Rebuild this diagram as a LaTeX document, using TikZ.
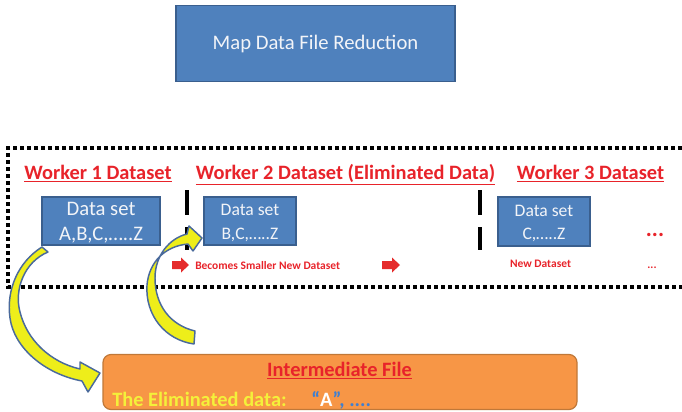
\documentclass[tikz,border=0pt]{standalone}
\usepackage{fontspec}
\setmainfont{Carlito}
\definecolor{boxblue}{HTML}{4F81BD}
\definecolor{boxedge}{HTML}{3A5F8E}
\definecolor{hdrred}{HTML}{E8232A}
\definecolor{arrred}{HTML}{E52B2B}
\definecolor{arrfill}{HTML}{EEEE1A}
\definecolor{arredge}{HTML}{4A6A9C}
\definecolor{orangefill}{HTML}{F79646}
\definecolor{orangeedge}{HTML}{C07838}
\definecolor{yeltext}{HTML}{F4F03A}
\definecolor{bluetext}{HTML}{3F7FD0}
\definecolor{dstextc}{HTML}{F2F4F8}
\begin{document}
\begin{tikzpicture}[x=0.75pt,y=-0.75pt,
  bluebox/.style={draw=boxedge, fill=boxblue, line width=0.8pt, text=dstextc, align=center, inner sep=0pt},
  boxtext/.style={text=dstextc, align=center, inner sep=0pt},
  hdr/.style={font=\fontsize{15.3}{18}\selectfont\bfseries, text=hdrred, inner sep=0pt},
  smallred/.style={font=\fontsize{8.6}{10}\selectfont\bfseries, text=hdrred, inner sep=0pt},
  barline/.style={line width=2.3pt, black},
  dotframe/.style={line width=2.7pt, black, dash pattern=on 2.7pt off 2.55pt},
  blockarrow/.style={fill=arrfill, draw=arredge, line width=1.1pt, line join=round},
  redarrow/.style={fill=arrred}
]
\useasboundingbox (0,0) rectangle (682,411);
\fill[white] (0,0) rectangle (682,411);

% title
\node[bluebox, minimum width=209.25pt, minimum height=57pt, font=\fontsize{15.5}{18}\selectfont] (title) at (315.5,43.5) {Map Data File Reduction};

% dotted frame
\draw[dotframe] (682,148) -- (8,148) -- (8,287) -- (682,287);

% headers
\node[hdr, anchor=base] (w1) at (98,179) {\underline{Worker 1 Dataset}};
\node[hdr, anchor=base] (w2) at (345.5,179) {\underline{Worker 2 Dataset (Eliminated Data)}};
\node[hdr, anchor=base] (w3) at (590.5,179) {\underline{Worker 3 Dataset}};

% separators
\draw[barline] (187,190) -- (187,215);
\draw[barline] (187,227) -- (187,250);
\draw[barline] (480,190) -- (480,215);
\draw[barline] (480,227) -- (480,250);

% data set boxes
\node[bluebox, minimum width=88.5pt, minimum height=36pt] (ds1) at (101,221) {};
\node[boxtext, font=\fontsize{15.5}{19}\selectfont] (ds1t) at (101,223) {Data set\\A,B,C,…..Z};
\node[bluebox, minimum width=69pt, minimum height=36pt] (ds2) at (250,221) {};
\node[boxtext, font=\fontsize{13.2}{17.5}\selectfont] (ds2t) at (250,223) {Data set\\B,C,…..Z};
\node[bluebox, minimum width=69pt, minimum height=36.75pt] (ds3) at (544,221.5) {};
\node[boxtext, font=\fontsize{13.2}{17.5}\selectfont] (ds3t) at (544,223.5) {Data set\\C,…..Z};

% red dots
\node[hdr, anchor=base, font=\fontsize{17}{18}\selectfont\bfseries] (dots1) at (655,236) {...};
\node[smallred, anchor=base] (dots2) at (652,268) {...};

% small red arrows
\fill[redarrow] (172,261) -- (181,261) -- (181,257.5) -- (189,265) -- (181,272.5) -- (181,269) -- (172,269) -- cycle;
\fill[redarrow] (382,261) -- (392,261) -- (392,257.5) -- (400,265) -- (392,272.5) -- (392,269) -- (382,269) -- cycle;

\node[smallred, anchor=base west] (becomes) at (195,269.5) {Becomes Smaller New Dataset};
\node[smallred, anchor=base] (newds) at (540.5,267) {New Dataset};

% intermediate file
\node[draw=orangeedge, fill=orangefill, line width=0.9pt, rounded corners=6pt, minimum width=355.5pt, minimum height=41.25pt, inner sep=0pt] (inter) at (340,382) {};
\node[hdr, anchor=base] (intertitle) at (339.5,376.5) {\underline{Intermediate File}};
\node[hdr, text=yeltext, anchor=base west] (elim) at (112,406) {The Eliminated data:};
\node[hdr, anchor=base west, text=bluetext] (aval) at (311,406) {“\textcolor{white}{A}”, ....};

% curved yellow arrows
\draw[blockarrow] (42,247) .. controls (18,262) and (6,290) .. (10,318)
   .. controls (14,348) and (45,374) .. (82,381)
   -- (88,392) -- (100,373) -- (80,362) -- (80,369)
   .. controls (50,362) and (27,340) .. (20,312)
   .. controls (14,290) and (24,262) .. (48,252) -- cycle;

\draw[blockarrow] (194,344) .. controls (165,340) and (145,315) .. (147,285)
   .. controls (149,262) and (165,246) .. (188,244)
   -- (193,251) -- (202,238) -- (189,226) -- (187,234)
   .. controls (170,238) and (155,255) .. (155,278)
   .. controls (155,305) and (170,325) .. (195,331) -- cycle;
\end{tikzpicture}
\end{document}
